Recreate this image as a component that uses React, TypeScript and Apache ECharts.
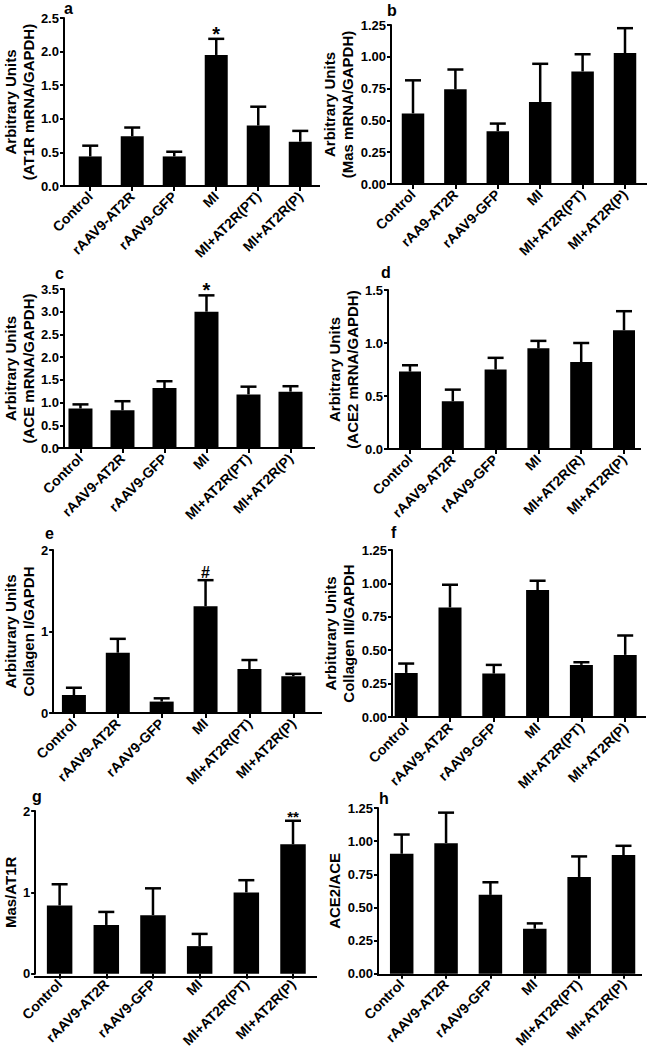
import React, { useEffect, useRef } from "react";
import * as echarts from "echarts";

const FONT = "'Liberation Sans', Arial, Helvetica, sans-serif";

// Categories
const catsStd = ["Control", "rAAV9-AT2R", "rAAV9-GFP", "MI", "MI+AT2R(PT)", "MI+AT2R(P)"];
const catsB = ["Control", "rAA9-AT2R", "rAAV9-GFP", "MI", "MI+AT2R(PT)", "MI+AT2R(P)"];
const catsD = ["Control", "rAAV9-AT2R", "rAAV9-GFP", "MI", "MI+AT2R(R)", "MI+AT2R(P)"];

// Means and upper error-bar ends
const meanA = [0.44, 0.74, 0.44, 1.95, 0.9, 0.66];
const topA = [0.6, 0.87, 0.51, 2.19, 1.18, 0.82];
const meanB = [0.555, 0.745, 0.415, 0.645, 0.885, 1.03];
const topB = [0.815, 0.9, 0.475, 0.945, 1.02, 1.225];
const meanC = [0.87, 0.83, 1.32, 3.0, 1.18, 1.24];
const topC = [0.96, 1.03, 1.47, 3.36, 1.35, 1.36];
const meanD = [0.73, 0.45, 0.75, 0.95, 0.82, 1.12];
const topD = [0.79, 0.56, 0.86, 1.02, 1.0, 1.3];
const meanE = [0.22, 0.74, 0.14, 1.31, 0.54, 0.45];
const topE = [0.31, 0.91, 0.18, 1.63, 0.65, 0.48];
const meanF = [0.33, 0.82, 0.325, 0.95, 0.39, 0.465];
const topF = [0.4, 0.99, 0.39, 1.02, 0.41, 0.61];
const meanG = [0.84, 0.6, 0.72, 0.34, 1.0, 1.59];
const topG = [1.1, 0.76, 1.05, 0.49, 1.15, 1.88];
const meanH = [0.905, 0.985, 0.595, 0.34, 0.73, 0.895];
const topH = [1.05, 1.215, 0.69, 0.38, 0.885, 0.965];

// Significance marks
const noteA = ["", "", "", "*", "", ""];
const noteC = ["", "", "", "*", "", ""];
const noteE = ["", "", "", "#", "", ""];
const noteG = ["", "", "", "", "", "**"];
const noteNone = ["", "", "", "", "", ""];

// Axis settings
const yMaxs = [2.5, 1.25, 3.5, 1.5, 2, 1.25, 2, 1.25];
const ySteps = [0.5, 0.25, 0.5, 0.5, 1, 0.25, 1, 0.25];
const yDecimals = [1, 2, 1, 1, 0, 2, 0, 2];
const yNames = [
  "Arbitrary Units\n(AT1R mRNA/GAPDH)",
  "Arbitrary Units\n(Mas mRNA/GAPDH)",
  "Arbitrary Units\n(ACE mRNA/GAPDH)",
  "Arbitrary Units\n(ACE2 mRNA/GAPDH)",
  "Arbiturary Units\nCollagen I/GAPDH",
  "Arbiturary Units\nCollagen III/GAPDH",
  "Mas/AT1R",
  "ACE2/ACE",
];
const letters = ["a", "b", "c", "d", "e", "f", "g", "h"];

// Layout (pixel positions & styles)
type Layout = {
  axisX: number; axisEnd: number; top: number; zero: number;
  c0: number; sp: number; barW: number; nameGap: number;
  lx: number; ly: number; noteSize: number; noteDy: number;
};
const layouts: Layout[] = [
  { axisX: 61, axisEnd: 320, top: 18, zero: 186, c0: 87.5, sp: 42.5, barW: 23, nameGap: 22, lx: 64, ly: 0, noteSize: 20, noteDy: 5 },
  { axisX: 391, axisEnd: 647, top: 25, zero: 184, c0: 413, sp: 42.4, barW: 22.5, nameGap: 26, lx: 387, ly: 2, noteSize: 20, noteDy: 5 },
  { axisX: 58, axisEnd: 315, top: 289, zero: 448, c0: 75, sp: 43, barW: 24, nameGap: 20, lx: 55, ly: 265, noteSize: 20, noteDy: 5 },
  { axisX: 388, axisEnd: 641, top: 290, zero: 449, c0: 410, sp: 42.8, barW: 22, nameGap: 25, lx: 381, ly: 264, noteSize: 20, noteDy: 5 },
  { axisX: 53, axisEnd: 322, top: 550, zero: 713, c0: 73.8, sp: 43.9, barW: 24, nameGap: 15, lx: 45, ly: 525, noteSize: 16, noteDy: 0 },
  { axisX: 392, axisEnd: 646, top: 550, zero: 717, c0: 406.2, sp: 43.8, barW: 23, nameGap: 29, lx: 391, ly: 524, noteSize: 20, noteDy: 5 },
  { axisX: 35, axisEnd: 317, top: 811, zero: 977, c0: 59.5, sp: 46.7, barW: 25.5, nameGap: 16, lx: 32, ly: 788, noteSize: 15, noteDy: 3 },
  { axisX: 378, axisEnd: 642, top: 808, zero: 975, c0: 401.7, sp: 44.36, barW: 23.5, nameGap: 35, lx: 379, ly: 790, noteSize: 20, noteDy: 5 },
];

const panelCats = [catsStd, catsB, catsStd, catsD, catsStd, catsStd, catsStd, catsStd];
const panelMeans = [meanA, meanB, meanC, meanD, meanE, meanF, meanG, meanH];
const panelTops = [topA, topB, topC, topD, topE, topF, topG, topH];
const panelNotes = [noteA, noteNone, noteC, noteNone, noteE, noteNone, noteG, noteNone];

function buildOption() {
  const grids: any[] = [];
  const xAxes: any[] = [];
  const yAxes: any[] = [];
  const series: any[] = [];
  const titles: any[] = [];
  const graphics: any[] = [];

  layouts.forEach((L, i) => {
    const gridLeft = L.c0 - L.sp / 2;
    const gridW = L.sp * 6;
    grids.push({ left: gridLeft, top: L.top, width: gridW, height: L.zero - L.top });
    titles.push({
      text: letters[i], left: L.lx, top: L.ly, padding: 0,
      textStyle: { fontSize: 16, fontWeight: "bold", color: "#000", fontFamily: FONT },
    });
    xAxes.push({
      gridIndex: i, type: "category", data: panelCats[i],
      axisLine: { show: false },
      axisTick: { show: true, alignWithLabel: true, length: 5, lineStyle: { color: "#000", width: 2 } },
      axisLabel: { rotate: 45, interval: 0, margin: 8, color: "#000", fontSize: 14, fontWeight: "bold", fontFamily: FONT },
    });
    const dec = yDecimals[i];
    yAxes.push({
      gridIndex: i, type: "value", min: 0, max: yMaxs[i], interval: ySteps[i],
      offset: gridLeft - L.axisX,
      axisLine: { show: true, lineStyle: { color: "#000", width: 2 } },
      axisTick: { show: true, length: 4, lineStyle: { color: "#000", width: 2 } },
      splitLine: { show: false },
      axisLabel: {
        formatter: (v: number) => v.toFixed(dec), margin: 5, color: "#000",
        fontSize: 13, fontWeight: "bold", fontFamily: FONT,
      },
      name: yNames[i], nameLocation: "middle", nameRotate: 90, nameGap: L.nameGap,
      nameTextStyle: { color: "#000", fontSize: 15, fontWeight: "bold", fontFamily: FONT, lineHeight: 18 },
    });
    series.push({
      type: "bar", xAxisIndex: i, yAxisIndex: i, data: panelMeans[i], barWidth: L.barW,
      itemStyle: { color: "#000" }, silent: true,
    });
    const notes = panelNotes[i];
    series.push({
      type: "custom", xAxisIndex: i, yAxisIndex: i, clip: false, silent: true, z: 5,
      encode: { x: 0, y: 1 },
      data: panelTops[i].map((t, k) => [k, t, panelMeans[i][k]]),
      renderItem: (_p: any, api: any) => {
        const idx = api.value(0);
        const pTop = api.coord([idx, api.value(1)]);
        const pMean = api.coord([idx, api.value(2)]);
        const half = 8;
        const children: any[] = [
          { type: "line", shape: { x1: pTop[0], y1: pMean[1], x2: pTop[0], y2: pTop[1] }, style: { stroke: "#000", lineWidth: 2.5 } },
          { type: "line", shape: { x1: pTop[0] - half, y1: pTop[1], x2: pTop[0] + half, y2: pTop[1] }, style: { stroke: "#000", lineWidth: 2.5 } },
        ];
        const note = notes[idx];
        if (note) {
          children.push({
            type: "text", x: pTop[0], y: pTop[1] + L.noteDy,
            style: {
              text: note, fill: "#000", fontSize: L.noteSize, fontWeight: "bold", fontFamily: FONT,
              align: "center", verticalAlign: "bottom", textAlign: "center", textVerticalAlign: "bottom",
            },
          });
        }
        return { type: "group", children };
      },
    });
    graphics.push({
      type: "line", silent: true, z: 10,
      shape: { x1: L.axisX - 1, y1: L.zero, x2: L.axisEnd, y2: L.zero },
      style: { stroke: "#000", lineWidth: 2 },
    });
  });

  return {
    animation: false,
    backgroundColor: "#fff",
    title: titles,
    grid: grids,
    xAxis: xAxes,
    yAxis: yAxes,
    series,
    graphic: graphics,
  };
}

export default function App() {
  const ref = useRef<HTMLDivElement>(null);
  useEffect(() => {
    document.body.style.margin = "0";
    if (!ref.current) return;
    const chart = echarts.init(ref.current, undefined, { renderer: "svg" });
    chart.setOption(buildOption() as any);
    return () => chart.dispose();
  }, []);
  return <div ref={ref} style={{ width: 648, height: 1050 }} />;
}
